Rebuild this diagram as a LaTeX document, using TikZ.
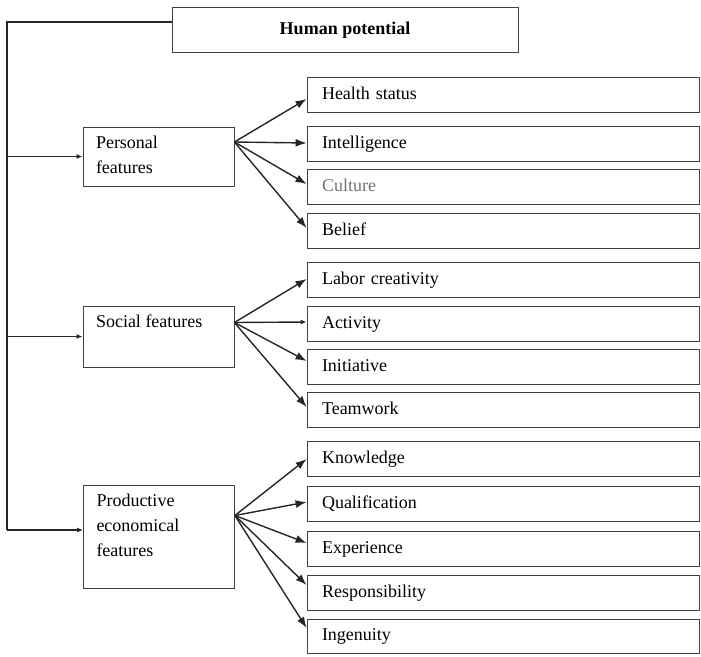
\documentclass[tikz,border=0pt]{standalone}
\usepackage{fontspec}
\setmainfont{Liberation Serif}
\usetikzlibrary{arrows.meta}
\begin{document}
\begin{tikzpicture}[x=1pt,y=-1pt,
  every node/.style={font=\fontsize{18}{25}\selectfont},
  box/.style={draw=black!75, line width=0.8pt, inner sep=0pt},
  rbox/.style={box, minimum width=392pt, minimum height=35pt, text width=362pt, align=left, inner xsep=15pt, inner ysep=0pt, text height=13pt, text depth=4pt},
  lbox/.style={box, inner xsep=13pt, inner ysep=9pt},
  fan/.style={draw=black!85, line width=1.4pt, -{Latex[length=11pt,width=8pt]}},
  feed/.style={draw=black!85, line width=1.4pt, -{Latex[length=6pt,width=5pt]}},
]
\useasboundingbox (0,0) rectangle (701,656);

% top box
\node[box, minimum width=346pt, minimum height=45pt, text height=13pt, text depth=4pt] (top) at (345,29.5) {\textbf{Human potential}};

% left boxes
\node[lbox] (pers) at (158.5,156.5) {\parbox[c][41pt][t]{125pt}{Personal\\features}};
\node[lbox] (soc) at (158.5,336.5) {\parbox[c][43pt][t]{125pt}{Social features}};
\node[lbox] (prod) at (159,536.5) {\parbox[c][85pt][t]{125pt}{Productive\\economical\\features}};

% right boxes
\node[rbox] (health) at (503,95) {Health status};
\node[rbox] (intel) at (503,144) {Intelligence};
\node[rbox, text=black!55] (cult) at (503,187) {Culture};
\node[rbox] (belief) at (503,231) {Belief};
\node[rbox] (labor) at (503,280) {Labor creativity};
\node[rbox] (activ) at (503,324) {Activity};
\node[rbox] (init) at (503,367) {Initiative};
\node[rbox] (team) at (503,410) {Teamwork};
\node[rbox] (know) at (503,459) {Knowledge};
\node[rbox] (qual) at (503,504) {Qualification};
\node[rbox] (exp) at (503,549) {Experience};
\node[rbox] (resp) at (503,593) {Responsibility};
\node[rbox, minimum height=34pt] (ing) at (503,636) {Ingenuity};

% left trunk
\coordinate (tl) at (7,22);
\coordinate (bl) at (7,530);
\draw[draw=black!85, line width=1.2pt] ([yshift=7.5pt]top.west) -- (tl) -- (bl);
\draw[feed] (tl |- pers.west) -- (pers.west);
\draw[feed] (tl |- soc.west) -- (soc.west);
\draw[feed] (bl) -- (bl -| prod.west);

% fan origins
\coordinate (po) at ([yshift=14.5pt]pers.east);
\coordinate (so) at ([yshift=14pt]soc.east);
\coordinate (pro) at ([yshift=21pt]prod.east);

\draw[fan] (po) -- ([yshift=-4pt]health.west);
\draw[fan] (po) -- ([yshift=1pt]intel.west);
\draw[fan] (po) -- ([yshift=3pt]cult.west);
\draw[fan] (po) -- ([yshift=3pt]belief.west);

\draw[fan] (so) -- ([yshift=1pt]labor.west);
\draw[feed] (so) -- ([yshift=2pt]activ.west);
\draw[fan] (so) -- ([yshift=6pt]init.west);
\draw[fan] (so) -- ([yshift=3pt]team.west);

\draw[fan] (pro) -- (know.west);
\draw[fan] (pro) -- ([yshift=2pt]qual.west);
\draw[fan] (pro) -- ([yshift=6pt]exp.west);
\draw[fan] (pro) -- ([yshift=8pt]resp.west);
\draw[fan] (pro) -- ([yshift=8pt]ing.west);
\end{tikzpicture}
\end{document}
